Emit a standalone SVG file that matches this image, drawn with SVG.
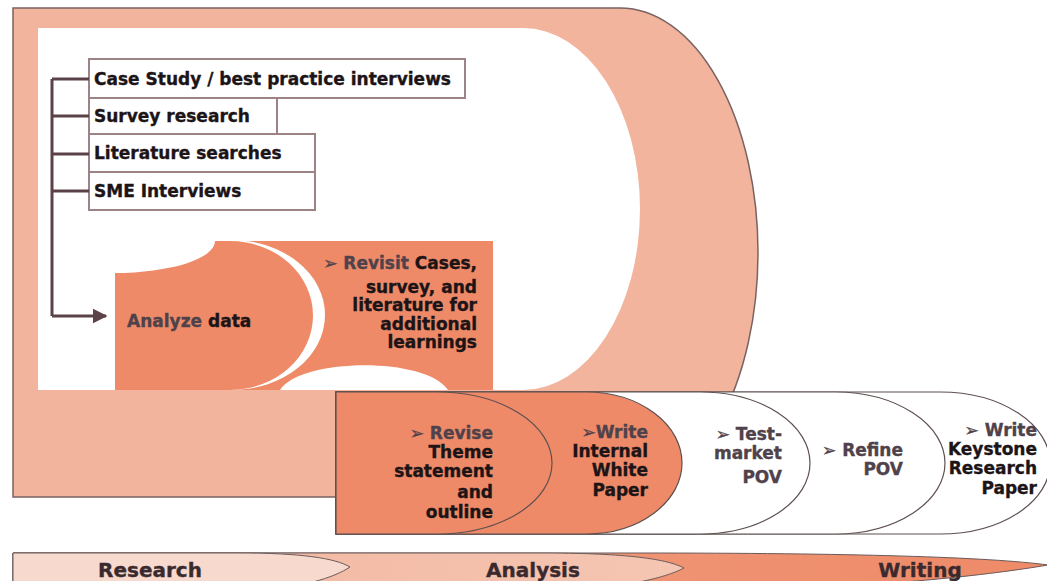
<svg xmlns="http://www.w3.org/2000/svg" width="1047" height="581" viewBox="0 0 1047 581">
<style>
.t{font-family:"DejaVu Sans","Liberation Sans",sans-serif;font-weight:bold;font-size:17px;fill:#1c1416;stroke:#1c1416;stroke-width:0.35}
.k{fill:#4f424a;stroke:#4f424a}
.box{fill:#fff;stroke:#9c8486;stroke-width:2}
.row{stroke:#5e5050;stroke-width:1.2}
.bar{font-family:"DejaVu Sans","Liberation Sans",sans-serif;font-weight:bold;font-size:20px;fill:#3a2a2e;stroke:#3a2a2e;stroke-width:0.35;text-anchor:middle}
.e{text-anchor:end}
</style>
<defs>
<marker id="ah" markerWidth="5" markerHeight="5" refX="4.5" refY="2.5" orient="auto" markerUnits="strokeWidth">
<path d="M0,0 L5,2.5 L0,5 Z" fill="#5a4248"/>
</marker>
<linearGradient id="gw" x1="0" x2="1" y1="0" y2="0">
<stop offset="0" stop-color="#f0a284"/><stop offset="1" stop-color="#ee8a68"/>
</linearGradient>
<linearGradient id="ga" x1="0" x2="1" y1="0" y2="0">
<stop offset="0" stop-color="#f2b39b"/><stop offset="1" stop-color="#f5c6b3"/>
</linearGradient>
</defs>

<g id="background">
<path d="M13,8 H620 A138,244.5 0 0 1 620,497 H13 Z" fill="#f2b49c" stroke="#7a6262" stroke-width="1.5"/>
<path d="M38,28 H523 A117,181 0 0 1 523,390 H38 Z" fill="#fff"/>
</g>

<g id="revisit">
<rect x="233" y="241" width="260" height="149" fill="#ee8a68"/>
<ellipse cx="232" cy="315" rx="93" ry="75" fill="#fff"/>
<path d="M280,390 C300,358 425,356 448,390 Z" fill="#fff"/>
<text class="t e" x="477" y="269"><tspan class="k">➢ Revisit</tspan> Cases,</text>
<text class="t e" x="477" y="293">survey, and</text>
<text class="t e" x="477" y="311">literature for</text>
<text class="t e" x="477" y="330">additional</text>
<text class="t e" x="477" y="348">learnings</text>
</g>

<g id="analyze">
<path d="M115,273 A100,32 0 0 0 215,241 L230,241 A83,74.5 0 0 1 230,390 L115,390 Z" fill="#ee8a68"/>
<text class="t" x="127" y="327"><tspan class="k">Analyze</tspan> data</text>
</g>

<g id="case-study">
<rect class="box" x="89" y="59" width="376" height="39"/>
<text class="t" x="94" y="85">Case Study / best practice interviews</text>
</g>
<g id="survey">
<rect class="box" x="89" y="98" width="188" height="36"/>
<text class="t" x="94" y="122">Survey research</text>
</g>
<g id="literature">
<rect class="box" x="89" y="134" width="226" height="38"/>
<text class="t" x="94" y="159">Literature searches</text>
</g>
<g id="sme">
<rect class="box" x="89" y="172" width="226" height="38"/>
<text class="t" x="94" y="197">SME Interviews</text>
</g>

<g id="connectors" fill="none" stroke="#5a4248" stroke-width="3">
<path d="M52,79 V316"/>
<path d="M52,79 H89 M52,116 H89 M52,154 H89 M52,191 H89"/>
<path d="M52,316 H106" marker-end="url(#ah)"/>
</g>

<g id="keystone">
<path class="row" d="M336,392 H940 A110,71 0 0 1 940,534 H336 Z" fill="#fff"/>
<text class="t e k" x="1037" y="436">➢ Write</text>
<text class="t e" x="1037" y="455">Keystone</text>
<text class="t e" x="1037" y="474">Research</text>
<text class="t e" x="1037" y="494">Paper</text>
</g>
<g id="refine">
<path class="row" d="M336,392 H835 A110,71 0 0 1 835,534 H336 Z" fill="#fff"/>
<text class="t e k" x="903" y="456">➢ Refine</text>
<text class="t e k" x="903" y="475">POV</text>
</g>
<g id="test-market">
<path class="row" d="M336,392 H700 A110,71 0 0 1 700,534 H336 Z" fill="#fff"/>
<text class="t e k" x="782" y="440">➢ Test-</text>
<text class="t e k" x="782" y="459">market</text>
<text class="t e k" x="782" y="483">POV</text>
</g>
<g id="white-paper">
<path class="row" d="M336,392 H586 A96,71 0 0 1 586,534 H336 Z" fill="#ee8a68"/>
<text class="t e k" x="648" y="438">➢Write</text>
<text class="t e" x="648" y="457">Internal</text>
<text class="t e" x="648" y="476">White</text>
<text class="t e" x="648" y="496">Paper</text>
</g>
<g id="revise">
<path class="row" d="M336,392 H437 A115,71 0 0 1 437,534 H336 Z" fill="#ee8a68"/>
<text class="t e k" x="493" y="439">➢ Revise</text>
<text class="t e" x="493" y="458">Theme</text>
<text class="t e" x="493" y="477">statement</text>
<text class="t e" x="493" y="498">and</text>
<text class="t e" x="493" y="518">outline</text>
</g>

<g id="phase-bar">
<path d="M13,553 H640 C850,553 990,557 1048,565 C990,575 850,592 640,592 H13 Z" fill="url(#gw)" stroke="#6b5b5b" stroke-width="1"/>
<path d="M13,553 H540 C620,553 665,558 684,568 C665,578 620,590 540,590 H13 Z" fill="url(#ga)" stroke="#6b5b5b" stroke-width="1"/>
<path d="M13,553 H240 C300,553 335,558 350,567 C335,577 300,590 240,590 H13 Z" fill="#f8d9cd" stroke="#6b5b5b" stroke-width="1"/>
<text class="bar" x="150" y="577">Research</text>
<text class="bar" x="533" y="577">Analysis</text>
<text class="bar" x="920" y="577">Writing</text>
</g>
</svg>
